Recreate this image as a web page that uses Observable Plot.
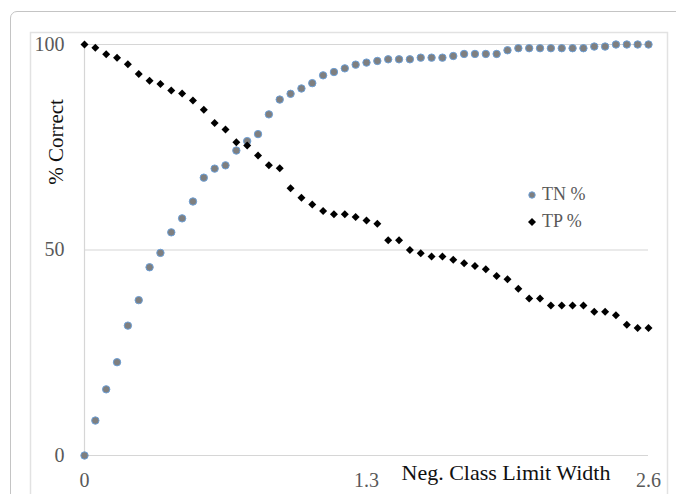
<!DOCTYPE html>
<html>
<head>
<meta charset="utf-8">
<script src="https://cdn.jsdelivr.net/npm/d3@7"></script>
<script src="https://cdn.jsdelivr.net/npm/@observablehq/plot@0.6"></script>
<style>
  body { margin: 0; background: #fff; }
  #wrap { position: relative; width: 676px; height: 494px; overflow: hidden; font-family: "Liberation Serif", serif; }
  #outer { position: absolute; left: 10px; top: 11px; width: 720px; height: 540px; border: 1.5px solid #c4c4c4; border-radius: 7px; }
  #chart { position: absolute; left: 0; top: 0; }
  #legend { position: absolute; left: 526px; top: 181px; font-size: 18px; color: #595959; line-height: 27px; }
  #legend div { display: flex; align-items: center; }
  #legend svg { margin-right: 4px; }
  #ytitle { position: absolute; left: 56px; top: 142px; transform: translate(-50%, -50%) rotate(-90deg);
            white-space: nowrap; font-size: 21px; color: #111; line-height: 1; }
</style>
</head>
<body>
<div id="wrap">
  <div id="outer"></div>
  <div id="chart"></div>
  <div id="ytitle">% Correct</div>
  <div id="legend"></div>
</div>
<script>
// x = neg. class limit width, one point every 0.05
let limitWidth = [0, 0.05, 0.1, 0.15, 0.2, 0.25, 0.3, 0.35, 0.4, 0.45, 0.5, 0.55, 0.6, 0.65, 0.7, 0.75,
  0.8, 0.85, 0.9, 0.95, 1, 1.05, 1.1, 1.15, 1.2, 1.25, 1.3, 1.35, 1.4, 1.45, 1.5, 1.55, 1.6, 1.65,
  1.7, 1.75, 1.8, 1.85, 1.9, 1.95, 2, 2.05, 2.1, 2.15, 2.2, 2.25, 2.3, 2.35, 2.4, 2.45, 2.5, 2.55, 2.6];

let tnPct = [0, 8.5, 16.1, 22.7, 31.6, 37.8, 45.8, 49.3, 54.3, 57.7, 61.8, 67.6, 69.8, 70.6, 74.2, 76.5,
  78.2, 83.0, 86.6, 88.0, 89.3, 90.6, 92.5, 93.3, 94.2, 95.1, 95.6, 96.0, 96.4, 96.4, 96.4, 96.8, 96.8,
  96.8, 97.2, 97.7, 97.7, 97.7, 97.7, 98.6, 99.1, 99.1, 99.1, 99.1, 99.1, 99.1, 99.1, 99.5, 99.5,
  100, 100, 100, 100];

let tpPct = [100, 99.2, 97.6, 96.8, 95.2, 92.8, 91.2, 90.4, 88.8, 88.1, 86.4, 84.1, 80.9, 79.3, 76.2, 75.4,
  73.0, 70.6, 69.9, 65.0, 62.7, 61.1, 59.5, 58.7, 58.7, 58.0, 57.2, 56.4, 52.4, 52.4, 50.0, 49.2, 48.4,
  48.4, 47.6, 46.8, 46.1, 45.3, 43.7, 42.9, 40.6, 38.2, 38.2, 36.5, 36.5, 36.5, 36.5, 35.0, 35.0, 34.1,
  31.8, 31.0, 31.0];

let xTicks = [0, 1.3, 2.6];
let yTicks = [0, 50, 100];
let seriesNames = ["TN %", "TP %"];

let tnColor = "#7f7f7f", tnStroke = "#6d9fd6", tpColor = "#000000";

// square rotated 45 degrees, like the spreadsheet marker
let diamond = {
  draw(ctx, size) {
    let r = Math.sqrt(size) * 0.62625;
    ctx.moveTo(0, -r); ctx.lineTo(r, 0); ctx.lineTo(0, r); ctx.lineTo(-r, 0); ctx.closePath();
  }
};

let tnData = limitWidth.map((x, i) => ({x: x, y: tnPct[i]}));
let tpData = limitWidth.map((x, i) => ({x: x, y: tpPct[i]}));

let plot = Plot.plot({
  width: 676,
  height: 494,
  marginLeft: 84,
  marginRight: 28,
  marginTop: 44,
  marginBottom: 39,
  x: {domain: [0, 2.6]},
  y: {domain: [0, 100]},
  style: {
    background: "transparent",
    fontFamily: "'Liberation Serif', serif",
    overflow: "visible"
  },
  marks: [
    Plot.frame({stroke: "#e2e2e2", strokeWidth: 1.5, insetLeft: -54, insetTop: -12, insetRight: -19, insetBottom: -80}),
    Plot.gridY(yTicks, {stroke: "#d6d6d6", strokeOpacity: 1, strokeWidth: 1.2}),
    Plot.ruleX([0], {stroke: "#d6d6d6", strokeWidth: 1.2}),
    Plot.axisY(yTicks, {tickSize: 0, tickPadding: 20, fontSize: 20, fill: "#595959", label: null}),
    Plot.axisX(xTicks, {tickSize: 0, tickPadding: 17, fontSize: 20, fill: "#595959", label: null, tickFormat: d => String(d)}),
    Plot.text(["Neg. Class Limit Width"], {frameAnchor: "bottom-left", textAnchor: "start", lineAnchor: "bottom", dx: 317, dy: 24, fontSize: 22, fill: "#111"}),
    Plot.dot(tnData, {x: "x", y: "y", r: 3.7, fill: tnColor, stroke: tnStroke, strokeWidth: 1}),
    Plot.dot(tpData, {x: "x", y: "y", r: 3.6, symbol: diamond, fill: tpColor, stroke: "none"})
  ]
});

document.getElementById("chart").append(plot);

// legend
let legend = d3.select("#legend");
seriesNames.forEach((name, i) => {
  let row = legend.append("div");
  let s = row.append("svg").attr("width", 12).attr("height", 12);
  if (i === 0) {
    s.append("circle").attr("cx", 6).attr("cy", 6).attr("r", 3.2)
      .attr("fill", tnColor).attr("stroke", tnStroke);
  } else {
    s.append("path").attr("d", "M6,2L10,6L6,10L2,6Z").attr("fill", tpColor);
  }
  row.append("span").text(name);
});
</script>
</body>
</html>
